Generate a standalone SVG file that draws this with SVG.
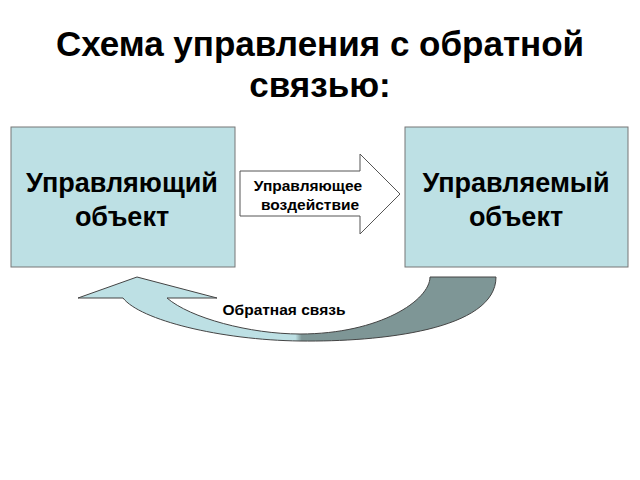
<svg xmlns="http://www.w3.org/2000/svg" width="640" height="480" viewBox="0 0 640 480">
<style>
text{font-family:"Liberation Sans",Arial,sans-serif;font-weight:bold;fill:#000;text-anchor:middle}
.box{fill:#bde0e4;stroke:#777;stroke-width:1}
.big{font-size:27px}
.sm{font-size:15.5px}
</style>
<defs>
<linearGradient id="g" gradientUnits="userSpaceOnUse" x1="78" y1="0" x2="496" y2="0">
<stop offset="0" stop-color="#bde0e4"/><stop offset="0.52" stop-color="#bde0e4"/><stop offset="0.535" stop-color="#7e9696"/><stop offset="1" stop-color="#7e9696"/>
</linearGradient>
</defs>
<rect width="640" height="480" fill="#fff"/>
<text x="320" y="56" font-size="35">Схема управления с обратной</text>
<text x="320" y="97" font-size="35">связью:</text>
<g id="node1"><rect class="box" x="11" y="127" width="224" height="140"/>
<text class="big" x="122" y="192">Управляющий</text><text class="big" x="122" y="226">объект</text></g>
<g id="node2"><rect class="box" x="405" y="127" width="223" height="140"/>
<text class="big" x="516" y="192">Управляемый</text><text class="big" x="516" y="226">объект</text></g>
<g id="connectors">
<path d="M240,171 H360 V154 L400,194 L360,234 V216 H240 Z" fill="#fff" stroke="#555"/>
<text class="sm" x="308" y="191">Управляющее</text><text class="sm" x="310" y="210">воздействие</text>
<path d="M496,277 C496,330 380,342 300,341 C220,340 140,320 123,298 L78,298 L137,277 L217,298 L167,298 C190,318 250,334 300,334 C380,334 430,300 430,277 Z" fill="url(#g)" stroke="#444"/>
<text class="sm" x="284" y="315">Обратная связь</text>
</g>
</svg>
